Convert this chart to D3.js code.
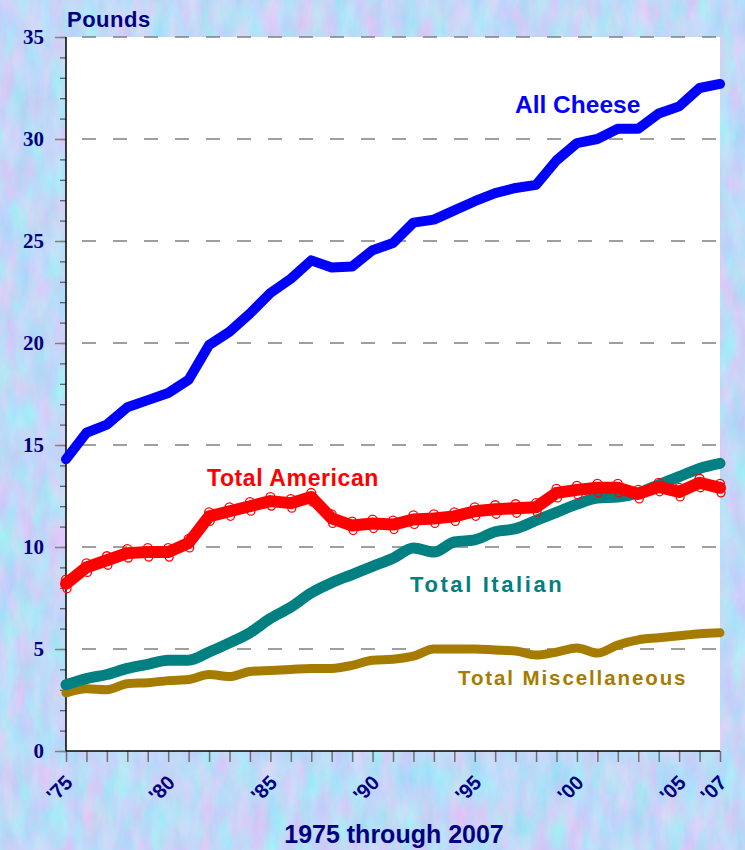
<!DOCTYPE html>
<html>
<head>
<meta charset="utf-8">
<script src="https://cdn.jsdelivr.net/npm/d3@7"></script>
<style>
  body { margin: 0; padding: 0; background: #fff; }
  svg { display: block; }
</style>
</head>
<body>
<script>
const width = 745;
const height = 850;
const margin = { top: 37, right: 25, bottom: 99, left: 66 };

const years = [1975, 1976, 1977, 1978, 1979, 1980, 1981, 1982, 1983, 1984,
  1985, 1986, 1987, 1988, 1989, 1990, 1991, 1992, 1993, 1994, 1995, 1996,
  1997, 1998, 1999, 2000, 2001, 2002, 2003, 2004, 2005, 2006, 2007];

const allCheese = [14.3, 15.6, 16.0, 16.85, 17.2, 17.55, 18.2, 19.9, 20.55, 21.45,
  22.45, 23.15, 24.05, 23.7, 23.75, 24.55, 24.9, 25.9, 26.05, 26.5, 26.95, 27.35,
  27.6, 27.75, 28.95, 29.8, 30.0, 30.5, 30.5, 31.25, 31.6, 32.5, 32.7];

const totalAmerican = [8.2, 9.0, 9.35, 9.7, 9.75, 9.75, 10.2, 11.5, 11.75, 12.0,
  12.25, 12.15, 12.45, 11.4, 11.05, 11.15, 11.1, 11.35, 11.4, 11.5, 11.75, 11.85,
  11.9, 11.95, 12.65, 12.8, 12.9, 12.9, 12.6, 12.95, 12.7, 13.15, 12.9];

const totalItalian = [3.25, 3.55, 3.75, 4.05, 4.25, 4.45, 4.45, 4.85, 5.3, 5.8,
  6.5, 7.05, 7.75, 8.25, 8.65, 9.05, 9.45, 9.95, 9.75, 10.25, 10.35, 10.75,
  10.9, 11.3, 11.7, 12.1, 12.4, 12.45, 12.65, 13.05, 13.45, 13.85, 14.1];

const totalMisc = [2.85, 3.05, 3.0, 3.3, 3.35, 3.45, 3.5, 3.75, 3.65, 3.9,
  3.95, 4.0, 4.05, 4.05, 4.2, 4.45, 4.5, 4.65, 5.0, 5.0, 5.0, 4.95,
  4.9, 4.7, 4.85, 5.05, 4.8, 5.2, 5.45, 5.55, 5.65, 5.75, 5.8];

const yMajorTicks = [0, 5, 10, 15, 20, 25, 30, 35];
const xLabelYears = [1975, 1980, 1985, 1990, 1995, 2000, 2005, 2007];
const xLabels = ["'75", "'80", "'85", "'90", "'95", "'00", "'05", "'07"];

const navy = "#000080";
const sans = "'Liberation Sans', Arial, sans-serif";

const svg = d3.select("body").append("svg")
  .attr("width", width)
  .attr("height", height);

// marbled background
const defs = svg.append("defs");
const filt = defs.append("filter")
  .attr("id", "marble")
  .attr("color-interpolation-filters", "sRGB")
  .attr("x", 0).attr("y", 0).attr("width", "100%").attr("height", "100%");
filt.append("feTurbulence")
  .attr("type", "fractalNoise")
  .attr("baseFrequency", "0.06 0.025")
  .attr("numOctaves", 4)
  .attr("seed", 7);
filt.append("feColorMatrix")
  .attr("type", "matrix")
  .attr("values",
    "0.38 0 0 0 0.56 " +
    "-0.15 0.15 0 0 0.85 " +
    "0 0 0.06 0 0.94 " +
    "0 0 0 0 1");

svg.append("rect")
  .attr("width", width)
  .attr("height", height)
  .attr("fill", "#c8dcf6")
  .attr("filter", "url(#marble)");

const x = d3.scaleLinear()
  .domain([1975, 2007])
  .range([margin.left, width - margin.right]);

const y = d3.scaleLinear()
  .domain([0, 35])
  .range([height - margin.bottom, margin.top]);

// plot area
svg.append("rect")
  .attr("x", x(1975))
  .attr("y", y(35))
  .attr("width", x(2007) - x(1975))
  .attr("height", y(0) - y(35))
  .attr("fill", "#fff");

// dashed gridlines
svg.append("g")
  .selectAll("line")
  .data(yMajorTicks.filter((d) => d > 0))
  .join("line")
  .attr("x1", x(1975))
  .attr("x2", x(2007))
  .attr("y1", (d) => y(d))
  .attr("y2", (d) => y(d))
  .attr("stroke", "#808080")
  .attr("stroke-width", 1.5)
  .attr("stroke-dasharray", "14,17")
  .attr("stroke-dashoffset", 15);

// y minor ticks
const yMinor = svg.append("g")
  .attr("transform", `translate(${margin.left},0)`)
  .call(d3.axisLeft(y).tickValues(d3.range(0, 36)).tickSize(6).tickFormat(""));
yMinor.select(".domain").remove();
yMinor.selectAll("line").attr("stroke", "#555").attr("stroke-width", 1.2);

// y major ticks + labels
const yAxis = svg.append("g")
  .attr("transform", `translate(${margin.left},0)`)
  .call(d3.axisLeft(y).tickValues(yMajorTicks).tickSize(11).tickPadding(11).tickFormat(d3.format("d")));
yAxis.select(".domain").remove();
yAxis.selectAll("line").attr("stroke", "#808080").attr("stroke-width", 1.5);
yAxis.selectAll("text")
  .attr("fill", navy)
  .style("font-family", "'Liberation Serif', 'Times New Roman', serif")
  .style("font-weight", "bold")
  .style("font-size", "21px");

// x ticks
const xAxis = svg.append("g")
  .attr("transform", `translate(0,${y(0)})`)
  .call(d3.axisBottom(x).tickValues(years).tickSize(11).tickFormat(""));
xAxis.select(".domain").remove();
xAxis.selectAll("line").attr("stroke", "#707070").attr("stroke-width", 1.5);

// x labels, rotated
svg.append("g")
  .selectAll("text")
  .data(xLabelYears)
  .join("text")
  .attr("transform", (d) => `translate(${x(d) + 3},${y(0) + 28}) rotate(-45)`)
  .attr("text-anchor", "end")
  .attr("dy", "0.35em")
  .attr("fill", navy)
  .style("font-family", sans)
  .style("font-weight", "bold")
  .style("font-size", "20px")
  .text((d, i) => xLabels[i]);

// axis lines
svg.append("line")
  .attr("x1", x(1975)).attr("x2", x(1975))
  .attr("y1", y(35)).attr("y2", y(0))
  .attr("stroke", "#000").attr("stroke-width", 1.5);
svg.append("line")
  .attr("x1", x(1975)).attr("x2", x(2007))
  .attr("y1", y(0)).attr("y2", y(0))
  .attr("stroke", "#000").attr("stroke-width", 1.5);

// series
const series = [
  { name: "Total Miscellaneous", values: totalMisc, color: "#a67c00", w: 9, curve: d3.curveMonotoneX },
  { name: "Total Italian", values: totalItalian, color: "#008080", w: 11, curve: d3.curveMonotoneX },
  { name: "Total American", values: totalAmerican, color: "#ff0000", w: 12, curve: d3.curveLinear },
  { name: "All Cheese", values: allCheese, color: "#0000ff", w: 10, curve: d3.curveLinear },
];

series.forEach((s) => {
  const line = d3.line()
    .x((d, i) => x(years[i]))
    .y((d) => y(d))
    .curve(s.curve);
  svg.append("path")
    .datum(s.values)
    .attr("d", line)
    .attr("fill", "none")
    .attr("stroke", s.color)
    .attr("stroke-width", s.w)
    .attr("stroke-linejoin", "round")
    .attr("stroke-linecap", "round");

  if (s.name === "Total American") {
    const mk = svg.append("g")
      .attr("fill", "none")
      .attr("stroke", "#ff0000")
      .attr("stroke-width", 1.3);
    mk.selectAll("circle.top")
      .data(s.values)
      .join("circle")
      .attr("class", "top")
      .attr("cx", (d, i) => x(years[i]))
      .attr("cy", (d) => y(d) - 4)
      .attr("r", 4.5);
    mk.selectAll("circle.bot")
      .data(s.values)
      .join("circle")
      .attr("class", "bot")
      .attr("cx", (d, i) => x(years[i]) + 1)
      .attr("cy", (d) => y(d) + 5)
      .attr("r", 4);
  }
});

// series labels
const labels = [
  { text: "All Cheese", x: 515, y: 113, color: "#0000ff", size: 24.5, ls: 0 },
  { text: "Total American", x: 207, y: 486, color: "#ff0000", size: 23, ls: 0.6 },
  { text: "Total Italian", x: 410, y: 592, color: "#008080", size: 22, ls: 2.6 },
  { text: "Total Miscellaneous", x: 458, y: 685, color: "#a67c00", size: 20.5, ls: 1.9 },
];

svg.append("g")
  .selectAll("text")
  .data(labels)
  .join("text")
  .attr("x", (d) => d.x)
  .attr("y", (d) => d.y)
  .attr("fill", (d) => d.color)
  .style("font-family", sans)
  .style("font-weight", "bold")
  .style("font-size", (d) => d.size + "px")
  .style("letter-spacing", (d) => d.ls + "px")
  .text((d) => d.text);

// titles
svg.append("text")
  .attr("x", 67)
  .attr("y", 27)
  .attr("fill", navy)
  .style("font-family", sans)
  .style("font-weight", "bold")
  .style("font-size", "22px")
  .style("letter-spacing", "0.5px")
  .text("Pounds");

svg.append("text")
  .attr("x", 394)
  .attr("y", 843)
  .attr("text-anchor", "middle")
  .attr("fill", navy)
  .style("font-family", sans)
  .style("font-weight", "bold")
  .style("font-size", "25px")
  .text("1975 through 2007");
</script>
</body>
</html>
